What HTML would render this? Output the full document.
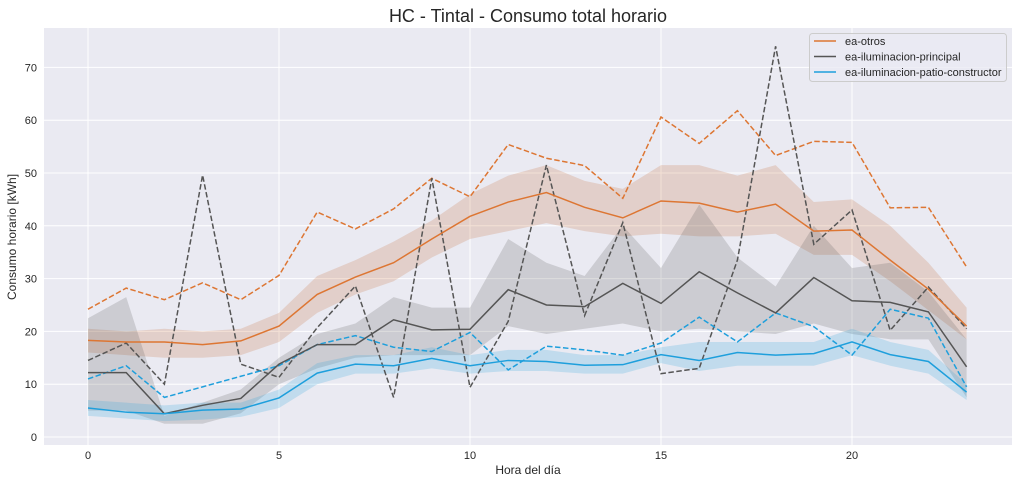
<!DOCTYPE html>
<html><head><meta charset="utf-8"><style>
body{margin:0;background:#fff;font-family:"Liberation Sans",sans-serif}
svg text{font-family:"Liberation Sans",sans-serif;fill:#262626}
</style></head><body>
<svg id="c" width="1019" height="483"></svg>
<script>
const hours=[0,1,2,3,4,5,6,7,8,9,10,11,12,13,14,15,16,17,18,19,20,21,22,23];
const xTicks=[0,5,10,15,20];
const yTicks=[0,10,20,30,40,50,60,70];
const otrosMean=[18.3,18,18,17.5,18.2,21,27,30.3,33,37.5,41.8,44.5,46.3,43.5,41.5,44.7,44.3,42.6,44.1,39,39.2,33.5,28,21];
const otrosLo=[16,15.5,15,15,15.5,18,23.5,27,29.5,34,37.5,39,40.5,39,38,38.5,38,38,38.5,34.5,34.5,29.5,24,18.5];
const otrosHi=[20.5,20,20.5,20,20.5,23.5,30.5,33.5,37,41,46,49.5,51.5,48.5,47,51.5,51.5,49.5,51.5,44.5,45,40,33,24.5];
const otrosMax=[24.2,28.2,26,29.2,26,30.6,42.6,39.4,43.2,49,45.5,55.4,52.8,51.4,45.2,60.6,55.6,61.8,53.3,56,55.8,43.4,43.5,32.2];
const prinMean=[12.2,12.2,4.4,6,7.3,13.8,17.5,17.5,22.2,20.3,20.4,27.9,25,24.7,29.1,25.3,31.3,27.3,23.5,30.2,25.8,25.5,23.7,13.3];
const prinLo=[5,5,2.5,2.5,4.5,10,13,15,15.5,15.5,15.5,21,19.5,20.5,21.5,20,20.5,20,19.5,21.5,19.5,18.5,18.5,7.5];
const prinHi=[22.5,26.5,4,6.5,9,15,19.5,21.5,26.5,24.5,24.5,37.5,33,30.5,40,32,44,34,28.5,40,32,33,27.5,18.5];
const prinMax=[14.5,17.8,10,49.6,13.8,11.3,20.7,28.6,7.5,49,9.4,21.9,51.5,23,40.6,12,13,33.5,74,36.5,43,20.2,28.4,20.5];
const patioMean=[5.5,4.7,4.4,5.1,5.3,7.4,12.1,13.8,13.5,14.9,13.5,14.5,14.3,13.6,13.7,15.6,14.5,16,15.5,15.8,18,15.6,14.3,8.5];
const patioLo=[4,3.5,3,3.3,3.8,5.5,10,12,12,13,12,12.5,12.5,12,12,14,12.5,13.5,13.5,13.5,15.5,13.5,12,7];
const patioHi=[7,6.5,6,6.5,6.5,9,14,15.5,15.5,17,15.5,16.5,16.5,15.5,15.5,17,18,18,18,18,20.5,18,16.5,10];
const patioMax=[11,13.5,7.5,9.5,11.5,13.5,17.5,19.2,17,16.2,19.8,12.7,17.2,16.5,15.5,17.8,22.7,18,23.5,20.9,15.5,24.2,22.5,9.5];

const L=44,R=1012,T=28,B=445;
const X=v=>88+v*38.2;
const Y=v=>437-v*5.28;
const svg=document.getElementById('c');
const NS='http://www.w3.org/2000/svg';
function mk(t,a,p){const e=document.createElementNS(NS,t);for(const k in a)e.setAttribute(k,a[k]);(p||svg).appendChild(e);return e;}
let bg=mk('rect',{x:L,y:T,width:R-L,height:B-T,fill:'#eaeaf2'});


xTicks.forEach(t=>{
 let g=mk('line',{x1:X(t),x2:X(t),y1:T,y2:B,stroke:'#fff','stroke-width':1});
 
 
 let tx=mk('text',{x:X(t),y:B+14,'text-anchor':'middle','font-size':11});
 tx.textContent=t;
 
 
});
yTicks.forEach(t=>{
 let g=mk('line',{x1:L,x2:R,y1:Y(t),y2:Y(t),stroke:'#fff','stroke-width':1});
 
 
 let tx=mk('text',{x:L-7,y:Y(t)+4,'text-anchor':'end','font-size':11});
 tx.textContent=t;
 
 
});
function band(lo,hi,col,name){
 let d=hours.map((h,i)=>(i?'L':'M')+X(h)+','+Y(hi[i])).join('')+hours.slice().reverse().map(h=>'L'+X(h)+','+Y(lo[h])).join('')+'Z';
 let p=mk('path',{d:d,fill:col,'fill-opacity':0.2});
 
 
}
function line(vals,col,dash,name){
 let d=hours.map((h,i)=>(i?'L':'M')+X(h)+','+Y(vals[i])).join('');
 let p=mk('path',{d:d,fill:'none',stroke:col,'stroke-width':1.5});
 if(dash)p.setAttribute('stroke-dasharray','5.5,2.5');
 
 
}
const cO='#dd7633',cP='#555555',cB='#1e9fdc';
band(otrosLo,otrosHi,'#c4662b','otros-ci-band');
band(prinLo,prinHi,'#555','principal-ci-band');
band(patioLo,patioHi,'#1e9fdc','patio-ci-band');
line(otrosMax,cO,true,'otros-max-line');
line(prinMax,cP,true,'principal-max-line');
line(patioMax,cB,true,'patio-max-line');
line(otrosMean,cO,false,'otros-mean-line');
line(prinMean,cP,false,'principal-mean-line');
line(patioMean,cB,false,'patio-mean-line');
let title=mk('text',{x:528,y:22,'text-anchor':'middle','font-size':18});
title.textContent='HC - Tintal - Consumo total horario';


let xl=mk('text',{x:528,y:474,'text-anchor':'middle','font-size':12});
xl.textContent='Hora del día';


let yl=mk('text',{x:0,y:0,'text-anchor':'middle','font-size':12,transform:'translate(16,237) rotate(-90)'});
yl.textContent='Consumo horario [kWh]';


let lg=mk('g',{});


mk('rect',{x:809.5,y:33.5,width:197,height:48,rx:3,fill:'#eaeaf2','fill-opacity':0.8,stroke:'#ccc'},lg);
[['ea-otros',cO],['ea-iluminacion-principal',cP],['ea-iluminacion-patio-constructor',cB]].forEach((e,i)=>{
 let y=41+i*15.5;
 let ln=mk('line',{x1:814,x2:836,y1:y,y2:y,stroke:e[1],'stroke-width':1.5},lg);
 
 
 let t=mk('text',{x:845,y:y+4,'font-size':11},lg);
 t.textContent=e[0];
 
 
});
</script>
</body></html>
